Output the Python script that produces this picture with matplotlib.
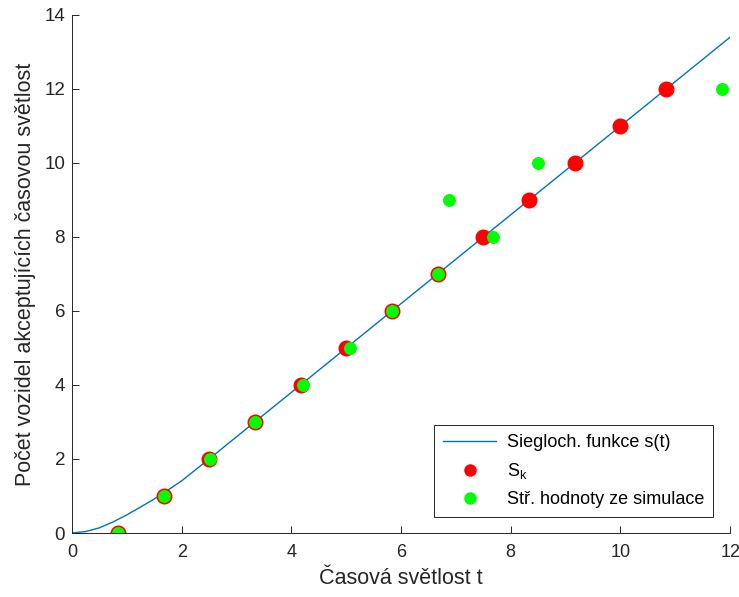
import matplotlib.pyplot as plt

plt.rcParams['font.family'] = ['Liberation Sans', 'DejaVu Sans']

# Siegloch function
t_curve = [0, 0.25, 0.5, 0.75, 1.0, 1.25, 1.5, 1.75, 2.0, 2.5, 3.0, 4.0, 6.0, 8.0, 10.0, 12.0]
s_curve = [0, 0.04, 0.14, 0.30, 0.49, 0.70, 0.92, 1.16, 1.41, 2.0, 2.6, 3.8, 6.2, 8.6, 11.0, 13.4]

# S_k
sk_x = [0.83, 1.67, 2.5, 3.33, 4.17, 5.0, 5.83, 6.67, 7.5, 8.33, 9.17, 10.0, 10.83]
sk_y = [0, 1, 2, 3, 4, 5, 6, 7, 8, 9, 10, 11, 12]

# simulation means
sim_x = [0.84, 1.68, 2.52, 3.34, 4.21, 5.07, 5.84, 6.68, 6.88, 7.67, 8.50, 11.85]
sim_y = [0, 1, 2, 3, 4, 5, 6, 7, 9, 8, 10, 12]

fig = plt.figure(figsize=(7.39, 5.97), dpi=100)
ax = fig.add_axes([0.0974, 0.1072, 0.8906, 0.8677])

ax.plot(t_curve, s_curve, color='#0072BD', lw=1.0, label='Siegloch. funkce s(t)')
ax.plot(sk_x, sk_y, 'o', color='#FF0000', ms=10.5, mec='#FF0000', label='S$_\\mathregular{k}$')
ax.plot(sim_x, sim_y, 'o', color='#00FF00', ms=8.3, mec='#00FF00', label='Stř. hodnoty ze simulace')

ax.set_xlim(0, 12)
ax.set_ylim(0, 14)
ax.set_xticks(range(0, 13, 2))
ax.set_yticks(range(0, 15, 2))
for sp in ['top', 'right']:
    ax.spines[sp].set_visible(False)
for sp in ['left', 'bottom']:
    ax.spines[sp].set_color('#262626')
    ax.spines[sp].set_linewidth(0.7)
ax.tick_params(direction='in', length=5, width=0.7, color='#262626',
               labelsize=13.5, labelcolor='#262626')
ax.tick_params(axis='x', pad=8, labelsize=13)
ax.tick_params(axis='y', pad=5)

ax.set_xlabel('Časová světlost t', fontsize=15.5, color='#262626', labelpad=5)
ax.set_ylabel('Počet vozidel akceptujících časovou světlost', fontsize=15.5, color='#262626', labelpad=6)

leg = ax.legend(loc='lower right', bbox_to_anchor=(0.974, 0.031), borderaxespad=0,
                fontsize=13, fancybox=False, edgecolor='#262626', framealpha=1,
                handlelength=2.9, handletextpad=0.6, borderpad=0.5, labelspacing=0.55)
leg.get_frame().set_linewidth(0.7)
for h in leg.legend_handles:
    h.set_markersize(8)

fig.savefig('out.png', dpi=100)
